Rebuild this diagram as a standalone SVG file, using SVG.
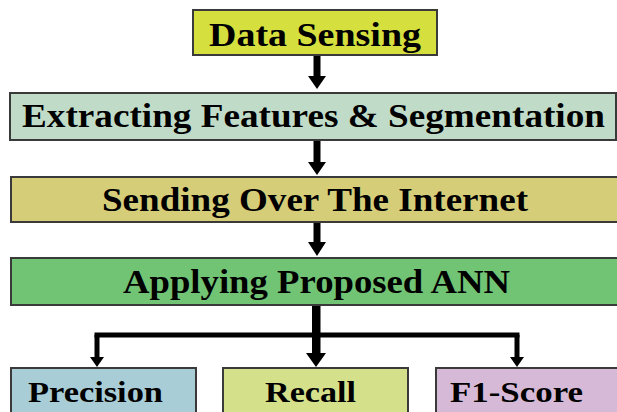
<svg xmlns="http://www.w3.org/2000/svg" width="617" height="412" viewBox="0 0 617 412">
<style>
.box{stroke:#3a3a3a;stroke-width:2}
.t{font-family:"Liberation Serif","Times New Roman",serif;font-weight:bold;fill:#000;font-size:33px}
.s{font-size:30px}
.c{fill:#000}
</style>
<rect width="617" height="412" fill="#fff"/>
<g id="connectors" class="c">
<polygon points="313.5,55 320.5,55 320.5,76 326,76 317,89 308,76 313.5,76"/>
<polygon points="313.5,140 320.5,140 320.5,162 326,162 317,175 308,162 313.5,162"/>
<polygon points="313.5,222 320.5,222 320.5,242 326,242 317,256 308,242 313.5,242"/>
<polygon points="312,305 320.5,305 320.5,353 326,353 316,367 306,353 312,353"/>
<rect x="94.5" y="332.5" width="425" height="5"/>
<polygon points="94.5,335 99.5,335 99.5,357 104,357 97,367 90,357 94.5,357"/>
<polygon points="514.5,335 519.5,335 519.5,357 524,357 517,367 510,357 514.5,357"/>
</g>
<g id="data-sensing">
<rect class="box" x="193" y="10" width="244" height="45" fill="#d5df3e"/>
<text class="t" x="209" y="46" textLength="212" lengthAdjust="spacingAndGlyphs">Data Sensing</text>
</g>
<g id="extracting">
<rect class="box" x="10" y="93" width="606" height="47" fill="#c0dcc9"/>
<text class="t" x="22" y="127" textLength="583" lengthAdjust="spacingAndGlyphs">Extracting Features &amp; Segmentation</text>
</g>
<g id="sending">
<rect class="box" x="11" y="177" width="610" height="45" fill="#d6cd78"/>
<text class="t" x="102" y="211" textLength="426" lengthAdjust="spacingAndGlyphs">Sending Over The Internet</text>
</g>
<g id="ann">
<rect class="box" x="11" y="258" width="610" height="47" fill="#72c475"/>
<text class="t" x="123" y="293" textLength="387" lengthAdjust="spacingAndGlyphs">Applying Proposed ANN</text>
</g>
<g id="precision">
<rect class="box" x="11" y="368" width="185" height="50" fill="#a9cdd7"/>
<text class="t s" x="28" y="402" textLength="135" lengthAdjust="spacingAndGlyphs">Precision</text>
</g>
<g id="recall">
<rect class="box" x="223" y="368" width="185" height="50" fill="#d4e08a"/>
<text class="t s" x="265" y="402" textLength="91" lengthAdjust="spacingAndGlyphs">Recall</text>
</g>
<g id="f1-score">
<rect class="box" x="436" y="368" width="190" height="50" fill="#d5b9d6"/>
<text class="t s" x="450" y="402" textLength="133" lengthAdjust="spacingAndGlyphs">F1-Score</text>
</g>
</svg>
